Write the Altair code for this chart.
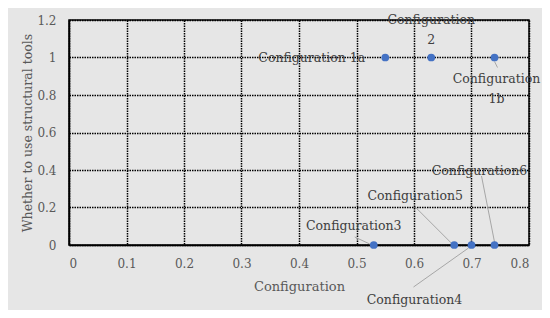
import altair as alt
import pandas as pd

# data
names = ["Configuration 1a", "Configuration\n2", "Configuration\n1b",
         "Configuration3", "Configuration4", "Configuration5", "Configuration6"]
x_vals = [0.55, 0.63, 0.74, 0.53, 0.70, 0.67, 0.74]
y_vals = [1, 1, 1, 0, 0, 0, 0]
x_ticks = [0, 0.1, 0.2, 0.3, 0.4, 0.5, 0.6, 0.7, 0.8]
y_ticks = [0, 0.2, 0.4, 0.6, 0.8, 1.0, 1.2]

# label layout (pixel offsets from each point, screen coords)
label_dx = [-20, 0, 2, -20, -57, -39, -15]
label_dy = [0, -38, 21, -19, 55, -49, -74]
lead_sx = [0, 0, 0, -19, -58, -39, -13]
lead_sy = [0, 0, 4, -8, 42, -38, -69]
lead_ex = [0, 0, 3, -4, -3, -3, 0]
lead_ey = [0, 0, 10, -1, 3, -2, -3]
has_lead = [0, 0, 1, 1, 1, 1, 1]
right_align = [1, 0, 0, 0, 0, 0, 0]

W, H = 460, 225
XMAX, YMAX = 0.8, 1.2
kx = XMAX / W
ky = YMAX / H

df = pd.DataFrame({
    "name": names, "x": x_vals, "y": y_vals,
    "ldx": label_dx, "ldy": label_dy,
    "sx": lead_sx, "sy": lead_sy, "ex": lead_ex, "ey": lead_ey,
    "lead": has_lead, "right": right_align,
})

font = "DejaVu Serif"
tcol = "#595959"
xs = alt.Scale(domain=[0, XMAX], nice=False, zero=True)
ys = alt.Scale(domain=[0, YMAX], nice=False, zero=True)

x_axis = alt.Axis(values=x_ticks, format="~g", grid=True, ticks=False,
                  labelOverlap=False,
                  domain=True, domainColor="black", domainWidth=1.5,
                  gridColor="black", gridDash=[1.5, 1], gridWidth=1.5,
                  labelFont=font, labelFontSize=12, labelColor=tcol,
                  labelPadding=13, titleFont=font, titleFontSize=13,
                  titleFontWeight="normal", titleColor=tcol,
                  titleX=230, titleY=41, titleBaseline="middle")
y_axis = alt.Axis(values=y_ticks, format="~g", grid=True, ticks=False,
                  labelOverlap=False,
                  domain=True, domainColor="black", domainWidth=1.5,
                  gridColor="black", gridDash=[1.5, 1], gridWidth=1.5,
                  labelFont=font, labelFontSize=12, labelColor=tcol,
                  labelPadding=13, titleFont=font, titleFontSize=12.5,
                  titleFontWeight="normal", titleColor=tcol,
                  titleX=-42, titleY=112.5, titleAngle=-90,
                  titleBaseline="middle", titleAlign="center")
XT = "Configuration"
YT = "Whether to use structural tools"

base = alt.Chart(df).transform_calculate(
    lx=f"datum.x + datum.ldx * {kx}",
    ly=f"datum.y - datum.ldy * {ky}",
    x1=f"datum.x + datum.sx * {kx}",
    y1=f"datum.y - datum.sy * {ky}",
    x2=f"datum.x + datum.ex * {kx}",
    y2=f"datum.y - datum.ey * {ky}",
)

leads = base.transform_filter("datum.lead == 1").mark_rule(
    color="#a6a6a6", strokeWidth=1
).encode(
    x=alt.X("x1:Q", scale=xs, axis=x_axis, title=XT),
    y=alt.Y("y1:Q", scale=ys, axis=y_axis, title=YT),
    x2="x2:Q", y2="y2:Q",
)

points = base.mark_point(filled=True, size=60, color="#4472c4", opacity=1).encode(
    x=alt.X("x:Q", scale=xs, axis=x_axis, title=XT),
    y=alt.Y("y:Q", scale=ys, axis=y_axis, title=YT),
)

labels_c = base.transform_filter("datum.right == 0").mark_text(
    font=font, fontSize=12.5, color="#404040", align="center",
    baseline="middle", lineBreak="\n", lineHeight=20
).encode(
    x=alt.X("lx:Q", scale=xs, axis=x_axis, title=XT),
    y=alt.Y("ly:Q", scale=ys, axis=y_axis, title=YT),
    text="name:N",
)

labels_r = base.transform_filter("datum.right == 1").mark_text(
    font=font, fontSize=12.5, color="#404040", align="right",
    baseline="middle"
).encode(
    x=alt.X("lx:Q", scale=xs, axis=x_axis, title=XT),
    y=alt.Y("ly:Q", scale=ys, axis=y_axis, title=YT),
    text="name:N",
)

chart = alt.layer(leads, points, labels_c, labels_r).properties(
    width=W, height=H,
    background="#e6e6e6",
    autosize=alt.AutoSizeParams(type="none"),
    padding={"left": 61, "top": 12, "right": 13, "bottom": 65},
).configure_view(stroke="black", strokeWidth=1.5)

chart.save("out.html", embed_options={"renderer": "svg", "actions": False})
